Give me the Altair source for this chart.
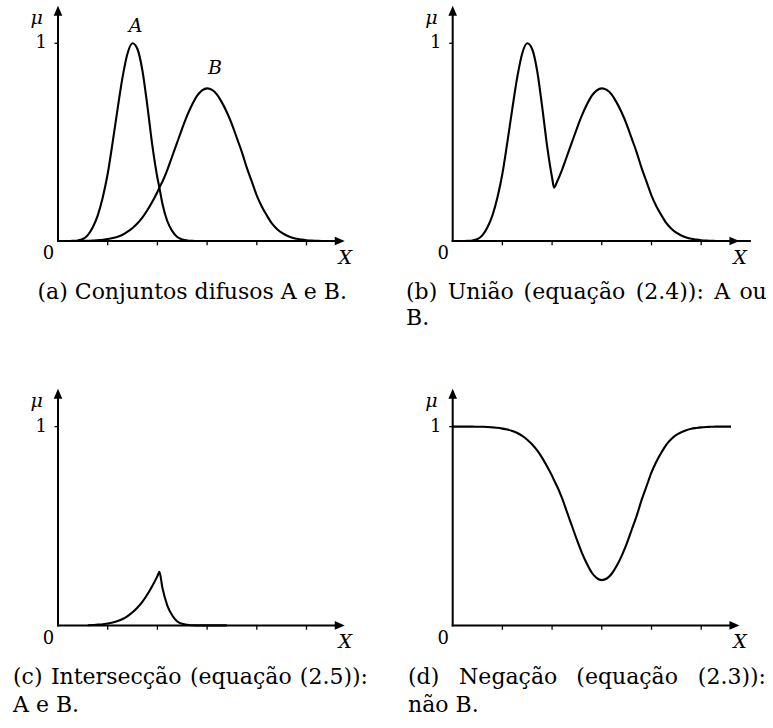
import altair as alt
import pandas as pd

# ---- values ----
xs = [0.0, 0.1, 0.2, 0.3, 0.4, 0.5, 0.6, 0.7, 0.8, 0.9, 1.0, 1.1, 1.2, 1.3, 1.4, 1.5,
      1.6, 1.7, 1.8, 1.9, 2.0, 2.04, 2.1, 2.2, 2.3, 2.4, 2.5, 2.6, 2.7, 2.8, 2.9, 3.0,
      3.1, 3.2, 3.3, 3.4, 3.5, 3.6, 3.7, 3.8, 3.9, 4.0, 4.1, 4.2, 4.3, 4.4, 4.5, 4.6,
      4.7, 4.8, 4.9, 5.0, 5.1, 5.2, 5.3, 5.4, 5.5, 5.6, 5.7, 5.8, 5.9, 6.0]
mu_a = [0.0, 0.0, 0.0, 0.001, 0.003, 0.01, 0.03, 0.07, 0.13, 0.22, 0.34, 0.50, 0.67,
        0.83, 0.95, 1.0, 0.97, 0.86, 0.68, 0.48, 0.32, 0.27, 0.19, 0.10, 0.05, 0.02,
        0.008, 0.003, 0.001] + [0.0] * 33
mu_b = [0.0, 0.0, 0.0, 0.0, 0.0, 0.001, 0.001, 0.002, 0.004, 0.006, 0.01, 0.015, 0.022,
        0.032, 0.047, 0.066, 0.09, 0.12, 0.157, 0.2, 0.248, 0.27, 0.30, 0.36, 0.43, 0.50,
        0.57, 0.635, 0.69, 0.735, 0.762, 0.772, 0.764, 0.74, 0.70, 0.65, 0.59, 0.52, 0.45,
        0.37, 0.30, 0.23, 0.175, 0.13, 0.09, 0.062, 0.042, 0.028, 0.018, 0.011, 0.007,
        0.004, 0.002, 0.001, 0.0, 0.0, 0.0, 0.0, 0.0, 0.0, 0.0, 0.0]
x_ticks = [1, 2, 3, 4, 5]

caption_a = "(a) Conjuntos difusos A e B."
caption_b = [["(b)", "União", "(equação", "(2.4)):", "A", "ou"], "B."]
caption_c = [["(c)", "Intersecção", "(equação", "(2.5)):"], "A e B."]
caption_d = [["(d)", "Negação", "(equação", "(2.3)):"], "não B."]

# fuzzy operations on the read sets
mu_union = [max(a, b) for a, b in zip(mu_a, mu_b)]
mu_inter = [min(a, b) for a, b in zip(mu_a, mu_b)]
mu_neg = [round(1 - b, 4) for b in mu_b]

# ---- layout ----
W, H = 386, 364
UNIT = 49.7
XL = [-1.167, -1.167 + W / UNIT]
XR = [-1.342, -1.342 + W / UNIT]
YT = [-0.622, 1.219]
YB = [-0.516, 1.315]
SERIF = "DejaVu Serif"
CAP_SIZE = 22
LAB_SIZE = 18

UP = "M0,0L0.86,2L-0.86,2Z"
RIGHT = "M0,0L-2,-0.86L-2,0.86Z"


def curve_df(name, vals, lo, hi):
    return pd.DataFrame([{"x": x, "mu": v, "s": name} for x, v in zip(xs, vals) if lo <= x <= hi])


def panel(curves, xdom, ydom, caption_layers, letters=None):
    sx = alt.Scale(domain=xdom, nice=False, zero=False)
    sy = alt.Scale(domain=ydom, nice=False, zero=False)

    def X(f):
        return alt.X(f, type="quantitative", scale=sx, axis=None)

    def Y(f):
        return alt.Y(f, type="quantitative", scale=sy, axis=None)

    layers = []
    # axes
    layers.append(alt.Chart(pd.DataFrame([{"x": -0.02, "x2": 5.68, "y": 0.0}])).mark_rule(
        color="black", strokeWidth=2).encode(x=X("x"), x2=alt.X2("x2"), y=Y("y")))
    layers.append(alt.Chart(pd.DataFrame([{"x": 0.0, "y": -0.005, "y2": 1.15}])).mark_rule(
        color="black", strokeWidth=2).encode(x=X("x"), y=Y("y"), y2=alt.Y2("y2")))
    layers.append(alt.Chart(pd.DataFrame({"x": x_ticks, "y": [0.0] * 5, "y2": [-0.022] * 5})).mark_rule(
        color="black", strokeWidth=1.3).encode(x=X("x"), y=Y("y"), y2=alt.Y2("y2")))
    layers.append(alt.Chart(pd.DataFrame([{"x": -0.07, "x2": 0.0, "y": 1.0}])).mark_rule(
        color="black", strokeWidth=1.3).encode(x=X("x"), x2=alt.X2("x2"), y=Y("y")))
    layers.append(alt.Chart(pd.DataFrame([{"x": 5.77, "y": 0.0}])).mark_point(
        shape=RIGHT, filled=True, color="black", opacity=1, size=100, strokeWidth=0).encode(x=X("x"), y=Y("y")))
    layers.append(alt.Chart(pd.DataFrame([{"x": 0.0, "y": 1.19}])).mark_point(
        shape=UP, filled=True, color="black", opacity=1, size=100, strokeWidth=0).encode(x=X("x"), y=Y("y")))
    # curves
    for df in curves:
        layers.append(alt.Chart(df).mark_line(
            color="black", strokeWidth=2.1, interpolate="monotone", strokeJoin="round").encode(
            x=X("x"), y=Y("mu"), detail="s:N"))
    # axis labels
    layers.append(alt.Chart(pd.DataFrame([{"x": -0.34, "y": 1.0, "t": "1"}, {"x": -0.19, "y": -0.068, "t": "0"}])).mark_text(
        font=SERIF, fontSize=LAB_SIZE, color="black", align="center", baseline="middle").encode(
        x=X("x"), y=Y("y"), text="t:N"))
    ital = [{"x": -0.43, "y": 1.13, "t": "μ"}, {"x": 5.78, "y": -0.085, "t": "X"}]
    if letters:
        ital += letters
    layers.append(alt.Chart(pd.DataFrame(ital)).mark_text(
        font=SERIF, fontSize=LAB_SIZE + 1, fontStyle="italic", color="black", align="center", baseline="middle").encode(
        x=X("x"), y=Y("y"), text="t:N"))
    # captions
    for align, rows in caption_layers:
        layers.append(alt.Chart(pd.DataFrame(rows)).mark_text(
            font=SERIF, fontSize=CAP_SIZE, color="black", align=align, baseline="middle").encode(
            x=X("x"), y=Y("y"), text="t:N"))
    return alt.layer(*layers).properties(width=W, height=H)


def words(ws, lefts, right, y):
    rows = [{"x": x, "y": y, "t": w} for w, x in zip(ws[:-1], lefts)]
    return [("left", rows), ("right", [{"x": right, "y": y, "t": ws[-1]}])]


Y1T, Y2T = -0.258, -0.39
Y1B, Y2B = -0.259, -0.40

pa = panel(
    [curve_df("A", mu_a, 0, 5.7), curve_df("B", mu_b, 0, 5.7)], XL, YT,
    [("center", [{"x": 2.70, "y": Y1T, "t": caption_a}])],
    letters=[{"x": 1.56, "y": 1.09, "t": "A"}, {"x": 3.16, "y": 0.875, "t": "B"}])
pb = panel(
    [curve_df("U", mu_union, 0, 6.0)], XR, YT,
    words(caption_b[0], [-0.94, -0.10, 1.427, 3.682, 5.264], 6.32, Y1T)
    + [("left", [{"x": -0.94, "y": Y2T, "t": caption_b[1]}])])
pc = panel(
    [curve_df("I", mu_inter, 0.6, 3.4)], XL, YB,
    words(caption_c[0], [-0.905, -0.143, 2.656, 4.869], 6.237, Y1B)
    + [("left", [{"x": -0.905, "y": Y2B, "t": caption_c[1]}])])
pd_ = panel(
    [curve_df("N", mu_neg, 0, 5.6)], XR, YB,
    words(caption_d[0], [-0.90, 0.129, 2.487], 6.304, Y1B)
    + [("left", [{"x": -0.90, "y": Y2B, "t": caption_d[1]}])])

chart = alt.vconcat(
    alt.hconcat(pa, pb, spacing=0),
    alt.hconcat(pc, pd_, spacing=0),
    spacing=0,
).properties(padding=0).configure_view(stroke=None).configure_concat(spacing=0)

chart.save("out.html", embed_options={"renderer": "svg", "actions": False})
